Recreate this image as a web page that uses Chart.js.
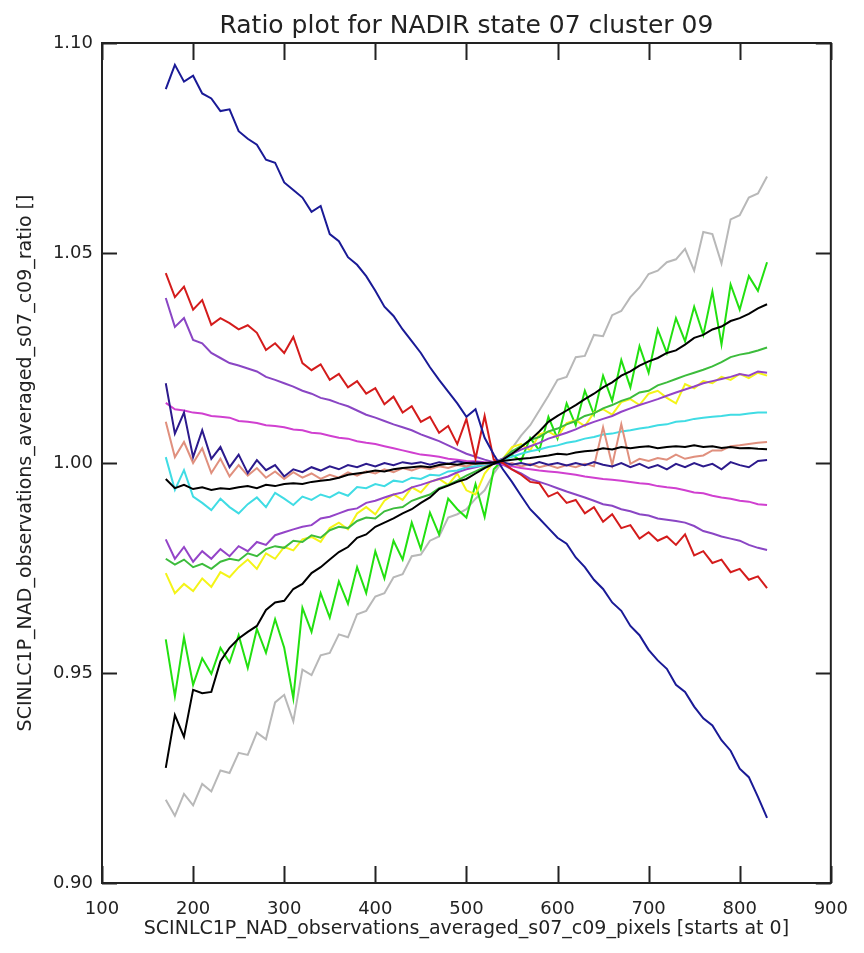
<!DOCTYPE html>
<html lang="en">
<head>
<meta charset="UTF-8">
<title>Ratio plot for NADIR state 07 cluster 09</title>
<script src="https://cdn.jsdelivr.net/npm/chart.js"></script>
<style>
  html, body { margin: 0; padding: 0; background: #fff; }
  canvas { display: block; }
</style>
</head>
<body>
<canvas id="ratioChart" width="864" height="953"></canvas>
<script>
// detector pixel (x axis), sampled every 10 pixels
const pixels = [170,180,190,200,210,220,230,240,250,260,
  270,280,290,300,310,320,330,340,350,360,
  370,380,390,400,410,420,430,440,450,460,
  470,480,490,500,510,520,530,540,550,560,
  570,580,590,600,610,620,630,640,650,660,
  670,680,690,700,710,720,730,740,750,760,
  770,780,790,800,810,820,830];

// ratio curves
const navyRatio = [1.0890,1.0948,1.0908,1.0922,1.0880,1.0868,1.0838,1.0842,1.0790,1.0772,
  1.0758,1.0722,1.0715,1.0668,1.0650,1.0632,1.0598,1.0612,1.0545,1.0528,
  1.0490,1.0472,1.0445,1.0410,1.0372,1.0350,1.0318,1.0290,1.0262,1.0228,
  1.0198,1.0170,1.0142,1.0110,1.0128,1.0060,1.0020,0.9985,0.9955,0.9922,
  0.9890,0.9868,0.9845,0.9822,0.9808,0.9775,0.9752,0.9722,0.9700,0.9668,
  0.9648,0.9612,0.9590,0.9555,0.9530,0.9510,0.9472,0.9455,0.9420,0.9392,
  0.9375,0.9340,0.9315,0.9272,0.9252,0.9205,0.9155];
const grayRatio = [0.9198,0.9160,0.9212,0.9185,0.9236,0.9218,0.9268,0.9262,0.9310,0.9305,
  0.9358,0.9342,0.9430,0.9448,0.9385,0.9508,0.9495,0.9542,0.9548,0.9592,
  0.9585,0.9640,0.9648,0.9682,0.9690,0.9728,0.9735,0.9778,0.9782,0.9815,
  0.9825,0.9870,0.9878,0.9890,0.9915,0.9935,0.9975,1.0005,1.0035,1.0065,
  1.0090,1.0125,1.0160,1.0198,1.0205,1.0252,1.0255,1.0305,1.0302,1.0352,
  1.0362,1.0395,1.0418,1.0450,1.0458,1.0478,1.0485,1.0510,1.0458,1.0550,
  1.0545,1.0475,1.0580,1.0590,1.0632,1.0642,1.0682];
const limeRatio = [0.9580,0.9445,0.9585,0.9472,0.9535,0.9498,0.9560,0.9525,0.9590,0.9512,
  0.9605,0.9548,0.9628,0.9560,0.9440,0.9655,0.9598,0.9690,0.9632,0.9718,
  0.9665,0.9752,0.9690,0.9790,0.9725,0.9815,0.9770,0.9858,0.9795,0.9882,
  0.9830,0.9915,0.9890,0.9870,0.9950,0.9872,0.9985,1.0008,1.0020,1.0005,
  1.0060,1.0030,1.0110,1.0058,1.0142,1.0090,1.0172,1.0115,1.0208,1.0148,
  1.0245,1.0180,1.0278,1.0215,1.0318,1.0262,1.0345,1.0290,1.0372,1.0305,
  1.0408,1.0282,1.0425,1.0365,1.0445,1.0410,1.0478];
const blackSteepRatio = [0.9274,0.9400,0.9348,0.9460,0.9452,0.9455,0.9528,0.9560,0.9582,0.9598,
  0.9612,0.9650,0.9668,0.9672,0.9700,0.9712,0.9738,0.9752,0.9770,0.9788,
  0.9800,0.9822,0.9830,0.9848,0.9858,0.9868,0.9880,0.9890,0.9905,0.9918,
  0.9938,0.9946,0.9955,0.9962,0.9975,0.9988,0.9998,1.0008,1.0022,1.0038,
  1.0055,1.0075,1.0098,1.0112,1.0125,1.0138,1.0152,1.0165,1.0180,1.0192,
  1.0208,1.0218,1.0232,1.0242,1.0250,1.0262,1.0268,1.0282,1.0298,1.0305,
  1.0318,1.0325,1.0338,1.0345,1.0355,1.0368,1.0378];
const greenRatio = [0.9772,0.9758,0.9770,0.9752,0.9760,0.9748,0.9765,0.9772,0.9768,0.9785,
  0.9778,0.9795,0.9802,0.9798,0.9815,0.9812,0.9828,0.9822,0.9840,0.9848,
  0.9845,0.9862,0.9870,0.9868,0.9885,0.9892,0.9895,0.9910,0.9918,0.9925,
  0.9940,0.9948,0.9958,0.9970,0.9980,0.9990,1.0000,1.0010,1.0028,1.0040,
  1.0055,1.0062,1.0075,1.0082,1.0092,1.0100,1.0112,1.0118,1.0130,1.0138,
  1.0148,1.0155,1.0168,1.0172,1.0185,1.0192,1.0200,1.0208,1.0215,1.0222,
  1.0230,1.0240,1.0252,1.0258,1.0262,1.0268,1.0275];
const yellowRatio = [0.9738,0.9690,0.9712,0.9695,0.9725,0.9705,0.9740,0.9728,0.9752,0.9770,
  0.9748,0.9785,0.9772,0.9800,0.9792,0.9818,0.9824,0.9812,0.9845,0.9858,
  0.9842,0.9880,0.9895,0.9878,0.9910,0.9925,0.9912,0.9942,0.9930,0.9955,
  0.9962,0.9948,0.9975,0.9935,0.9925,0.9975,1.0002,1.0010,1.0038,1.0045,
  1.0030,1.0068,1.0075,1.0062,1.0095,1.0102,1.0088,1.0120,1.0128,1.0115,
  1.0145,1.0152,1.0138,1.0165,1.0172,1.0155,1.0142,1.0188,1.0178,1.0195,
  1.0190,1.0205,1.0198,1.0212,1.0202,1.0215,1.0208];
const violetLowRatio = [0.9818,0.9772,0.9800,0.9765,0.9790,0.9772,0.9795,0.9778,0.9802,0.9790,
  0.9812,0.9805,0.9828,0.9835,0.9842,0.9848,0.9852,0.9868,0.9872,0.9880,
  0.9888,0.9892,0.9905,0.9910,0.9918,0.9925,0.9930,0.9942,0.9948,0.9955,
  0.9962,0.9968,0.9978,0.9985,0.9990,0.9995,1.0002,1.0010,1.0022,1.0032,
  1.0040,1.0048,1.0058,1.0065,1.0072,1.0080,1.0090,1.0098,1.0105,1.0112,
  1.0122,1.0130,1.0138,1.0145,1.0152,1.0160,1.0168,1.0175,1.0182,1.0190,
  1.0195,1.0200,1.0205,1.0212,1.0208,1.0218,1.0215];
const cyanRatio = [1.0014,0.9936,0.9983,0.9920,0.9905,0.9888,0.9915,0.9895,0.9880,0.9902,
  0.9918,0.9895,0.9929,0.9915,0.9900,0.9920,0.9912,0.9925,0.9918,0.9930,
  0.9922,0.9943,0.9940,0.9950,0.9945,0.9958,0.9955,0.9965,0.9962,0.9972,
  0.9970,0.9980,0.9982,0.9990,0.9992,0.9996,1.0002,1.0008,1.0015,1.0022,
  1.0028,1.0032,1.0038,1.0042,1.0048,1.0052,1.0058,1.0062,1.0068,1.0070,
  1.0075,1.0078,1.0082,1.0085,1.0090,1.0092,1.0098,1.0100,1.0105,1.0108,
  1.0110,1.0112,1.0115,1.0115,1.0118,1.0120,1.0120];
const blackFlatRatio = [0.9962,0.9940,0.9948,0.9938,0.9942,0.9936,0.9940,0.9938,0.9942,0.9945,
  0.9940,0.9948,0.9945,0.9950,0.9952,0.9950,0.9955,0.9958,0.9960,0.9965,
  0.9972,0.9975,0.9978,0.9982,0.9980,0.9985,0.9988,0.9990,0.9992,0.9990,
  0.9995,0.9998,0.9996,1.0000,0.9998,1.0000,1.0002,1.0005,1.0008,1.0010,
  1.0012,1.0015,1.0018,1.0022,1.0020,1.0025,1.0028,1.0030,1.0035,1.0032,
  1.0038,1.0035,1.0038,1.0040,1.0035,1.0038,1.0040,1.0038,1.0042,1.0038,
  1.0040,1.0036,1.0038,1.0035,1.0036,1.0034,1.0033];
const indigoRatio = [1.0190,1.0070,1.0120,1.0014,1.0078,1.0010,1.0038,0.9990,1.0020,0.9976,
  1.0007,0.9983,0.9995,0.9968,0.9985,0.9978,0.9990,0.9982,0.9992,0.9985,
  0.9995,0.9990,0.9998,0.9992,1.0000,0.9995,1.0002,0.9998,1.0002,0.9996,
  1.0002,0.9998,1.0004,1.0000,1.0002,1.0000,0.9998,1.0002,0.9996,1.0000,
  0.9995,1.0002,0.9996,1.0000,0.9994,1.0000,0.9995,1.0002,0.9996,0.9992,
  1.0000,0.9990,0.9998,0.9988,0.9995,0.9985,0.9998,0.9990,1.0000,0.9992,
  0.9998,0.9985,1.0002,0.9995,0.9990,1.0005,1.0007];
const salmonRatio = [1.0098,1.0014,1.0050,1.0000,1.0035,0.9976,1.0010,0.9968,0.9995,0.9970,
  0.9988,0.9965,0.9980,0.9962,0.9978,0.9965,0.9975,0.9962,0.9972,0.9965,
  0.9978,0.9970,0.9980,0.9975,0.9985,0.9978,0.9988,0.9982,0.9990,0.9985,
  0.9992,0.9988,0.9995,0.9992,1.0000,0.9998,1.0002,0.9995,1.0000,0.9992,
  0.9998,0.9990,0.9995,0.9988,0.9995,0.9990,0.9998,0.9992,1.0085,0.9995,
  1.0092,0.9998,1.0010,1.0005,1.0012,1.0008,1.0020,1.0010,1.0015,1.0018,
  1.0030,1.0030,1.0040,1.0042,1.0045,1.0048,1.0050];
const magentaRatio = [1.0143,1.0128,1.0125,1.0120,1.0118,1.0112,1.0110,1.0108,1.0100,1.0098,
  1.0095,1.0090,1.0088,1.0085,1.0080,1.0078,1.0072,1.0070,1.0065,1.0060,
  1.0058,1.0052,1.0048,1.0045,1.0040,1.0035,1.0030,1.0025,1.0020,1.0018,
  1.0015,1.0010,1.0008,1.0005,1.0004,1.0002,1.0000,0.9996,0.9992,0.9988,
  0.9985,0.9982,0.9980,0.9978,0.9975,0.9972,0.9968,0.9965,0.9962,0.9960,
  0.9958,0.9955,0.9952,0.9950,0.9945,0.9942,0.9940,0.9935,0.9930,0.9928,
  0.9922,0.9918,0.9915,0.9910,0.9908,0.9902,0.9900];
const violetHighRatio = [1.0393,1.0324,1.0345,1.0293,1.0285,1.0262,1.0250,1.0238,1.0232,1.0225,
  1.0218,1.0205,1.0198,1.0190,1.0182,1.0172,1.0165,1.0155,1.0150,1.0142,
  1.0135,1.0125,1.0115,1.0108,1.0100,1.0092,1.0085,1.0078,1.0068,1.0060,
  1.0052,1.0042,1.0032,1.0022,1.0015,1.0008,1.0002,0.9996,0.9985,0.9975,
  0.9962,0.9955,0.9948,0.9940,0.9932,0.9925,0.9918,0.9910,0.9902,0.9898,
  0.9890,0.9885,0.9878,0.9875,0.9868,0.9865,0.9862,0.9858,0.9850,0.9838,
  0.9832,0.9825,0.9820,0.9815,0.9805,0.9798,0.9793];
const redRatio = [1.0452,1.0395,1.0420,1.0365,1.0388,1.0329,1.0345,1.0333,1.0318,1.0328,
  1.0310,1.0269,1.0285,1.0262,1.0300,1.0238,1.0221,1.0235,1.0198,1.0212,
  1.0180,1.0195,1.0165,1.0178,1.0140,1.0158,1.0120,1.0135,1.0098,1.0110,
  1.0072,1.0088,1.0045,1.0105,1.0010,1.0112,1.0008,1.0000,0.9985,0.9972,
  0.9955,0.9952,0.9920,0.9930,0.9905,0.9912,0.9880,0.9895,0.9860,0.9878,
  0.9845,0.9852,0.9820,0.9835,0.9815,0.9825,0.9805,0.9830,0.9780,0.9790,
  0.9762,0.9770,0.9740,0.9748,0.9722,0.9730,0.9702];

// first entry ends up on top
const curves = [
  { values: blackSteepRatio, color: '#000000' },
  { values: blackFlatRatio, color: '#000000' },
  { values: navyRatio, color: '#1a1a96' },
  { values: redRatio, color: '#d41c1c' },
  { values: indigoRatio, color: '#2c1a8c' },
  { values: magentaRatio, color: '#d040d0' },
  { values: violetHighRatio, color: '#8a46c4' },
  { values: salmonRatio, color: '#e0907e' },
  { values: cyanRatio, color: '#40dce4' },
  { values: violetLowRatio, color: '#9444c8' },
  { values: greenRatio, color: '#3cbc3c' },
  { values: yellowRatio, color: '#f4f418' },
  { values: limeRatio, color: '#22e010' },
  { values: grayRatio, color: '#b8b8b8' }
];

const FONT = 'DejaVu Sans';
const INK = '#222222';

// IDL style box with inward ticks on all four sides
const framePlugin = {
  id: 'frame',
  afterDatasetsDraw(chart) {
    const { ctx, chartArea: a, scales: { x, y } } = chart;
    ctx.save();
    ctx.strokeStyle = INK;
    ctx.lineWidth = 2;
    ctx.strokeRect(a.left, a.top, a.right - a.left, a.bottom - a.top);
    ctx.beginPath();
    x.ticks.forEach(t => {
      const px = Math.round(x.getPixelForValue(t.value)) + 0.5;
      ctx.moveTo(px, a.bottom); ctx.lineTo(px, a.bottom - 17);
      ctx.moveTo(px, a.top); ctx.lineTo(px, a.top + 17);
    });
    y.ticks.forEach(t => {
      const py = Math.round(y.getPixelForValue(t.value)) + 0.5;
      ctx.moveTo(a.left, py); ctx.lineTo(a.left + 15, py);
      ctx.moveTo(a.right, py); ctx.lineTo(a.right - 15, py);
    });
    ctx.stroke();
    ctx.restore();
  }
};

new Chart(document.getElementById('ratioChart'), {
  type: 'line',
  data: {
    datasets: curves.map(c => ({
      data: pixels.map((p, i) => ({ x: p, y: c.values[i] })),
      borderColor: c.color,
      borderWidth: 2,
      pointRadius: 0,
      tension: 0,
      fill: false
    }))
  },
  options: {
    responsive: false,
    animation: false,
    layout: { padding: { top: 0, right: 21, bottom: 0, left: 0 } },
    plugins: {
      legend: { display: false },
      tooltip: { enabled: false },
      title: {
        display: true,
        text: 'Ratio plot for NADIR state 07 cluster 09',
        fullSize: false,
        color: INK,
        font: { family: FONT, size: 25, weight: 'normal' },
        padding: { top: 11, bottom: 2 }
      }
    },
    scales: {
      x: {
        type: 'linear',
        min: 100,
        max: 900,
        grid: { display: false, drawTicks: false },
        border: { display: false },
        ticks: {
          stepSize: 100,
          autoSkip: false,
          maxRotation: 0,
          padding: 16,
          color: INK,
          font: { family: FONT, size: 18 }
        },
        title: {
          display: true,
          text: 'SCINLC1P_NAD_observations_averaged_s07_c09_pixels [starts at 0]',
          color: INK,
          font: { family: FONT, size: 19 },
          padding: { top: 0, bottom: 13 }
        },
        afterFit: s => { s.height = 70; }
      },
      y: {
        min: 0.9,
        max: 1.1,
        grid: { display: false, drawTicks: false },
        border: { display: false },
        ticks: {
          stepSize: 0.05,
          padding: 9,
          color: INK,
          font: { family: FONT, size: 18 },
          callback: v => v.toFixed(2)
        },
        title: {
          display: true,
          text: 'SCINLC1P_NAD_observations_averaged_s07_c09_ratio []',
          color: INK,
          font: { family: FONT, size: 19 },
          padding: { top: 15, bottom: 0 }
        },
        afterFit: s => { s.width = 102; }
      }
    }
  },
  plugins: [framePlugin]
});
</script>
</body>
</html>
